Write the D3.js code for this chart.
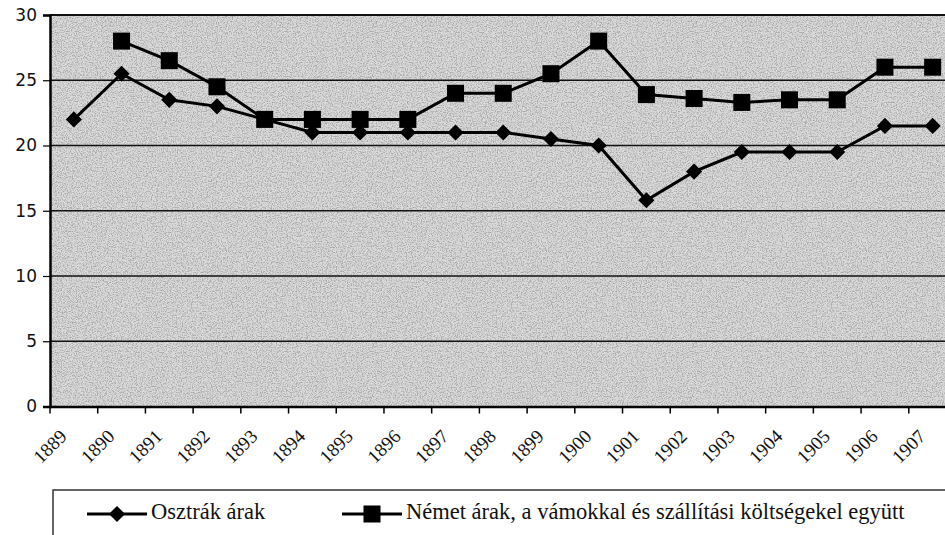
<!DOCTYPE html>
<html><head><meta charset="utf-8">
<script src="https://cdn.jsdelivr.net/npm/d3@7"></script>
<style>body{margin:0;background:#fff;} svg{display:block;} .serif{font-family:"Liberation Serif","Times New Roman",serif;}</style>
</head><body>
<svg id="chart" width="945" height="535"></svg>
<script>
const years = ["1889","1890","1891","1892","1893","1894","1895","1896","1897","1898","1899","1900","1901","1902","1903","1904","1905","1906","1907"];
const osztrak = [22,25.5,23.5,23,22,21,21,21,21,21,20.5,20,15.8,18,19.5,19.5,19.5,21.5,21.5];
const nemet = [null,28,26.5,24.5,22,22,22,22,24,24,25.5,28,23.9,23.6,23.3,23.5,23.5,26,26];
const yTicks = [0,5,10,15,20,25,30];
const seriesNames = ["Osztrák árak","Német árak, a vámokkal és szállítási költségekel együtt"];

const svg = d3.select("#chart");
const L = 50, T = 15, B = 406.5, R = 956.5;
const x = d3.scaleBand().domain(years).range([L, R]);
const y = d3.scaleLinear().domain([0,30]).range([B, T]);

const defs = svg.append("defs");
const f = defs.append("filter").attr("id","grain").attr("x",0).attr("y",0).attr("width",1).attr("height",1);
f.append("feTurbulence").attr("type","fractalNoise").attr("baseFrequency",0.8).attr("numOctaves",3).attr("seed",5).attr("result","n");
f.append("feColorMatrix").attr("in","n").attr("type","matrix")
 .attr("values","0 0 0 0 0.25  0 0 0 0 0.25  0 0 0 0 0.25  3.2 0 0 0 -1.35");

svg.append("rect").attr("x",L).attr("y",T).attr("width",R-L).attr("height",B-T).attr("fill","#dadada");
svg.append("rect").attr("x",L).attr("y",T).attr("width",R-L).attr("height",B-T).attr("fill","#000").attr("filter","url(#grain)").attr("opacity",0.6);

svg.append("g").selectAll("line").data(yTicks.filter(d=>d>0)).join("line")
  .attr("x1",L).attr("x2",R).attr("y1",d=>y(d)).attr("y2",d=>y(d))
  .attr("stroke","#111").attr("stroke-width",d=>d===30?2:1.3);

const ya = svg.append("g").attr("transform",`translate(${L},0)`)
  .call(d3.axisLeft(y).tickValues(yTicks).tickSize(7).tickPadding(6));
ya.select(".domain").attr("stroke","#000").attr("stroke-width",2.5);
ya.selectAll(".tick line").attr("stroke","#000").attr("stroke-width",1.2);
ya.selectAll("text").style("font-family","'DejaVu Sans', sans-serif").attr("font-size",17).attr("fill","#111");

const xa = svg.append("g").attr("transform",`translate(0,${B})`)
  .call(d3.axisBottom(x).tickSize(0).tickFormat(""));
xa.select(".domain").attr("stroke","#000").attr("stroke-width",2.5);
svg.append("g").selectAll("line").data(years).join("line")
  .attr("x1",d=>x(d)).attr("x2",d=>x(d)).attr("y1",B).attr("y2",B+7)
  .attr("stroke","#000").attr("stroke-width",1.5);
svg.append("g").selectAll("text").data(years).join("text")
  .attr("class","serif")
  .attr("transform",d=>`translate(${x(d)+x.bandwidth()/2-9},${B+28}) rotate(-45)`)
  .attr("text-anchor","end").attr("dominant-baseline","middle")
  .attr("font-size",19).attr("fill","#111")
  .text(d=>d);

const cx = d => x(d) + x.bandwidth()/2;
const line = d3.line().defined(d=>d[1]!=null).x(d=>cx(d[0])).y(d=>y(d[1]));
const sq = d3.symbol().type(d3.symbolSquare).size(290);
const dm = d3.symbol().type(d3.symbolSquare).size(130);

const nData = years.map((yr,i)=>[yr,nemet[i]]);
const oData = years.map((yr,i)=>[yr,osztrak[i]]);

svg.append("path").datum(nData).attr("d",line).attr("fill","none").attr("stroke","#000").attr("stroke-width",3);
svg.append("path").datum(oData).attr("d",line).attr("fill","none").attr("stroke","#000").attr("stroke-width",3);
svg.append("g").selectAll("path").data(nData.filter(d=>d[1]!=null)).join("path")
  .attr("d",sq).attr("transform",d=>`translate(${cx(d[0])},${y(d[1])})`).attr("fill","#000");
svg.append("g").selectAll("path").data(oData).join("path")
  .attr("d",dm).attr("transform",d=>`translate(${cx(d[0])},${y(d[1])}) rotate(45)`).attr("fill","#000");

const lg = svg.append("g");
lg.append("rect").attr("x",53).attr("y",490).attr("width",900).attr("height",60).attr("fill","#fff").attr("stroke","#333").attr("stroke-width",1.5);
const items = [{x:87, sym:dm, rot:45, name:seriesNames[0]},{x:342, sym:sq, rot:0, name:seriesNames[1]}];
items.forEach(it=>{
  lg.append("line").attr("x1",it.x).attr("x2",it.x+60).attr("y1",514).attr("y2",514).attr("stroke","#000").attr("stroke-width",3);
  lg.append("path").attr("d",it.sym).attr("transform",`translate(${it.x+30},514) rotate(${it.rot})`).attr("fill","#000");
  lg.append("text").attr("class","serif").attr("x",it.x+64).attr("y",514).attr("dominant-baseline","middle")
    .attr("font-size",22.5).attr("fill","#111").text(it.name);
});
</script>
</body></html>
